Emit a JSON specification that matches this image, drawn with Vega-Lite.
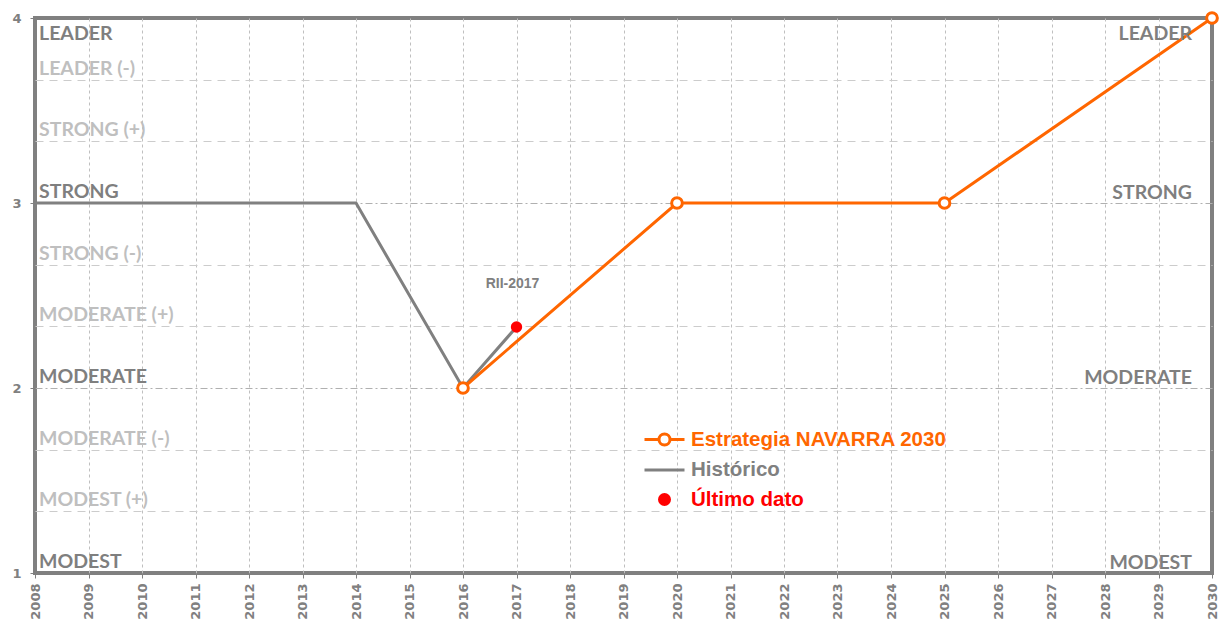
{
  "$schema": "https://vega.github.io/schema/vega-lite/v6.json",
  "width": 1177,
  "height": 555,
  "autosize": {"type": "none"},
  "padding": {"left": 35, "top": 18, "right": 16, "bottom": 48},
  "background": "white",
  "config": {
    "view": {"stroke": "#808080", "strokeWidth": 4},
    "legend": {"padding": 0},
    "style": {"guide-label": {"font": "DejaVu Sans", "fontSize": 13, "fontWeight": "bold", "fill": "#808080"}},
    "axis": {
      "labelFont": "DejaVu Sans",
      "labelFontWeight": "bold",
      "labelFontSize": 13,
      "labelColor": "#808080",
      "labelOverlap": false,
      "labelBound": false,
      "labelFlush": false,
      "domain": false,
      "tickColor": "#808080",
      "tickSize": 5,
      "tickWidth": 1
    },
    "axisX": {"labelFontSize": 13, "labelFont": "DejaVu Sans", "labelFontWeight": "bold"},
    "axisY": {"labelFontSize": 13, "labelFont": "DejaVu Sans", "labelFontWeight": "bold"}
  },
  "datasets": {
    "series": [
      {"anio": 2008, "valor": 3, "serie": "Histórico"},
      {"anio": 2014, "valor": 3, "serie": "Histórico"},
      {"anio": 2016, "valor": 2, "serie": "Histórico"},
      {"anio": 2017, "valor": 2.33, "serie": "Histórico"},
      {"anio": 2016, "valor": 2, "serie": "Estrategia NAVARRA 2030"},
      {"anio": 2020, "valor": 3, "serie": "Estrategia NAVARRA 2030"},
      {"anio": 2025, "valor": 3, "serie": "Estrategia NAVARRA 2030"},
      {"anio": 2030, "valor": 4, "serie": "Estrategia NAVARRA 2030"}
    ],
    "ultimo": [{"anio": 2017, "valor": 2.33, "etiqueta": "RII-2017"}],
    "niveles": [
      {"nivel": "LEADER", "valor": 4, "mayor": true},
      {"nivel": "LEADER (-)", "valor": 3.6667, "mayor": false},
      {"nivel": "STRONG (+)", "valor": 3.3333, "mayor": false},
      {"nivel": "STRONG", "valor": 3, "mayor": true},
      {"nivel": "STRONG (-)", "valor": 2.6667, "mayor": false},
      {"nivel": "MODERATE (+)", "valor": 2.3333, "mayor": false},
      {"nivel": "MODERATE", "valor": 2, "mayor": true},
      {"nivel": "MODERATE (-)", "valor": 1.6667, "mayor": false},
      {"nivel": "MODEST (+)", "valor": 1.3333, "mayor": false},
      {"nivel": "MODEST", "valor": 1, "mayor": true}
    ]
  },
  "layer": [
    {
      "data": {"name": "series"},
      "mark": {"type": "line", "strokeWidth": 3},
      "encoding": {
        "x": {
          "field": "anio", "type": "quantitative",
          "scale": {"domain": [2008, 2030], "nice": false, "zero": false},
          "axis": {
            "title": null,
            "values": [2008, 2008.25, 2008.5, 2008.75, 2009, 2009.25, 2009.5, 2009.75, 2010, 2010.25, 2010.5, 2010.75, 2011, 2011.25, 2011.5, 2011.75, 2012, 2012.25, 2012.5, 2012.75, 2013, 2013.25, 2013.5, 2013.75, 2014, 2014.25, 2014.5, 2014.75, 2015, 2015.25, 2015.5, 2015.75, 2016, 2016.25, 2016.5, 2016.75, 2017, 2017.25, 2017.5, 2017.75, 2018, 2018.25, 2018.5, 2018.75, 2019, 2019.25, 2019.5, 2019.75, 2020, 2020.25, 2020.5, 2020.75, 2021, 2021.25, 2021.5, 2021.75, 2022, 2022.25, 2022.5, 2022.75, 2023, 2023.25, 2023.5, 2023.75, 2024, 2024.25, 2024.5, 2024.75, 2025, 2025.25, 2025.5, 2025.75, 2026, 2026.25, 2026.5, 2026.75, 2027, 2027.25, 2027.5, 2027.75, 2028, 2028.25, 2028.5, 2028.75, 2029, 2029.25, 2029.5, 2029.75, 2030],
            "labelExpr": "datum.value % 1 === 0 ? '' + datum.value : ''",
            "labelAngle": -90,
            "labelFont": "DejaVu Sans",
            "labelFontWeight": "bold",
            "labelFontSize": 13,
            "labelColor": "#808080",
            "labelPadding": 5,
            "ticks": true,
            "tickOpacity": {"condition": {"test": "datum.value % 1 === 0", "value": 1}, "value": 0},
            "grid": true,
            "gridWidth": 1,
            "gridColor": {"condition": {"test": "datum.value % 1 === 0", "value": "#bfbfbf"}, "value": "#e6e6e6"},
            "gridDash": {"condition": {"test": "datum.value % 1 === 0", "value": [3, 3]}, "value": []},
            "gridOpacity": {"condition": {"test": "datum.value > 2008.1 && datum.value < 2029.9", "value": 1}, "value": 0}
          }
        },
        "y": {
          "field": "valor", "type": "quantitative",
          "scale": {"domain": [1, 4], "nice": false, "zero": false},
          "axis": {
            "title": null,
            "values": [1, 1.33333, 1.66667, 2, 2.33333, 2.66667, 3, 3.33333, 3.66667, 4],
            "labelExpr": "abs(datum.value - round(datum.value)) < 0.01 ? '' + round(datum.value) : ''",
            "labelFont": "DejaVu Sans",
            "labelFontWeight": "bold",
            "labelFontSize": 13,
            "labelColor": "#808080",
            "labelPadding": 9,
            "ticks": true,
            "tickOpacity": {"condition": {"test": "abs(datum.value - round(datum.value)) < 0.01", "value": 1}, "value": 0},
            "grid": true,
            "gridWidth": 1,
            "gridColor": {"condition": {"test": "abs(datum.value - round(datum.value)) < 0.01", "value": "#b0b0b0"}, "value": "#cccccc"},
            "gridDash": {"condition": {"test": "abs(datum.value - round(datum.value)) < 0.01", "value": [7, 3, 2, 3]}, "value": [8, 6]},
            "gridOpacity": {"condition": {"test": "datum.value > 1.1 && datum.value < 3.9", "value": 1}, "value": 0}
          }
        },
        "color": {
          "field": "serie", "type": "nominal",
          "scale": {"domain": ["Estrategia NAVARRA 2030", "Histórico", "Último dato"], "range": ["#ff6600", "#808080", "#ff0000"]},
          "legend": {
            "orient": "none",
            "legendX": 618,
            "legendY": 410,
            "title": null,
            "padding": 0,
            "labelFont": "Liberation Sans",
            "labelFontSize": 20.5,
            "labelFontWeight": "bold",
            "labelLimit": 500,
            "labelOffset": 15,
            "symbolSize": 400,
            "symbolStrokeWidth": 3,
            "rowPadding": 7.5,
            "encode": {
              "symbols": {
                "update": {
                  "shape": {"signal": "datum.value === 'Último dato' ? 'M-0.5,0A0.5,0.5 0 1,1 0.5,0A0.5,0.5 0 1,1 -0.5,0Z' : datum.value === 'Histórico' ? 'M-2,0H2' : 'M-2,0H-0.55M0.55,0H2M-0.55,0A0.55,0.55 0 1,1 0.55,0A0.55,0.55 0 1,1 -0.55,0Z'"},
                  "fill": {"signal": "datum.value === 'Último dato' ? '#ff0000' : datum.value === 'Histórico' ? 'transparent' : '#ffffff'"},
                  "stroke": {"signal": "datum.value === 'Último dato' ? '#ff0000' : datum.value === 'Histórico' ? '#808080' : '#ff6600'"},
                  "strokeWidth": {"value": 3},
                  "opacity": {"value": 1}
                }
              },
              "labels": {
                "update": {
                  "fill": {"signal": "datum.value === 'Último dato' ? '#ff0000' : datum.value === 'Histórico' ? '#808080' : '#ff6600'"}
                }
              }
            }
          }
        }
      }
    },
    {
      "data": {"name": "series"},
      "transform": [{"filter": "datum.serie === 'Estrategia NAVARRA 2030'"}],
      "mark": {"type": "circle", "fill": "#ffffff", "stroke": "#ff6600", "strokeWidth": 3, "size": 115, "opacity": 1},
      "encoding": {
        "x": {"field": "anio", "type": "quantitative"},
        "y": {"field": "valor", "type": "quantitative"}
      }
    },
    {
      "data": {"name": "ultimo"},
      "mark": {"type": "circle", "color": "#ff0000", "size": 130, "opacity": 1},
      "encoding": {
        "x": {"field": "anio", "type": "quantitative"},
        "y": {"field": "valor", "type": "quantitative"}
      }
    },
    {
      "data": {"name": "ultimo"},
      "mark": {"type": "text", "font": "Liberation Sans", "fontWeight": "bold", "fontSize": 14, "color": "#808080", "align": "center", "baseline": "alphabetic", "dx": -4, "dy": -39},
      "encoding": {
        "x": {"field": "anio", "type": "quantitative"},
        "y": {"field": "valor", "type": "quantitative"},
        "text": {"field": "etiqueta"}
      }
    },
    {
      "data": {"name": "niveles"},
      "transform": [{"filter": "datum.valor < 3.9"}],
      "mark": {"type": "text", "font": "Lato", "fontWeight": "bold", "fontSize": 19.5, "align": "left", "baseline": "alphabetic", "dx": 4, "dy": -5},
      "encoding": {
        "x": {"datum": 2008, "type": "quantitative"},
        "y": {"field": "valor", "type": "quantitative"},
        "text": {"field": "nivel"},
        "color": {"condition": {"test": "datum.mayor", "value": "#7f7f7f"}, "value": "#bfbfbf"}
      }
    },
    {
      "data": {"name": "niveles"},
      "transform": [{"filter": "datum.valor > 3.9"}],
      "mark": {"type": "text", "font": "Lato", "fontWeight": "bold", "fontSize": 19.5, "align": "left", "baseline": "alphabetic", "dx": 4, "dy": 22, "color": "#7f7f7f"},
      "encoding": {
        "x": {"datum": 2008, "type": "quantitative"},
        "y": {"field": "valor", "type": "quantitative"},
        "text": {"field": "nivel"}
      }
    },
    {
      "data": {"name": "niveles"},
      "transform": [{"filter": "datum.mayor && datum.valor < 3.9"}],
      "mark": {"type": "text", "font": "Lato", "fontWeight": "bold", "fontSize": 19.5, "align": "right", "baseline": "alphabetic", "dx": -20, "dy": -4, "color": "#7f7f7f"},
      "encoding": {
        "x": {"datum": 2030, "type": "quantitative"},
        "y": {"field": "valor", "type": "quantitative"},
        "text": {"field": "nivel"}
      }
    },
    {
      "data": {"name": "niveles"},
      "transform": [{"filter": "datum.valor > 3.9"}],
      "mark": {"type": "text", "font": "Lato", "fontWeight": "bold", "fontSize": 19.5, "align": "right", "baseline": "alphabetic", "dx": -20, "dy": 22, "color": "#7f7f7f"},
      "encoding": {
        "x": {"datum": 2030, "type": "quantitative"},
        "y": {"field": "valor", "type": "quantitative"},
        "text": {"field": "nivel"}
      }
    }
  ]
}
